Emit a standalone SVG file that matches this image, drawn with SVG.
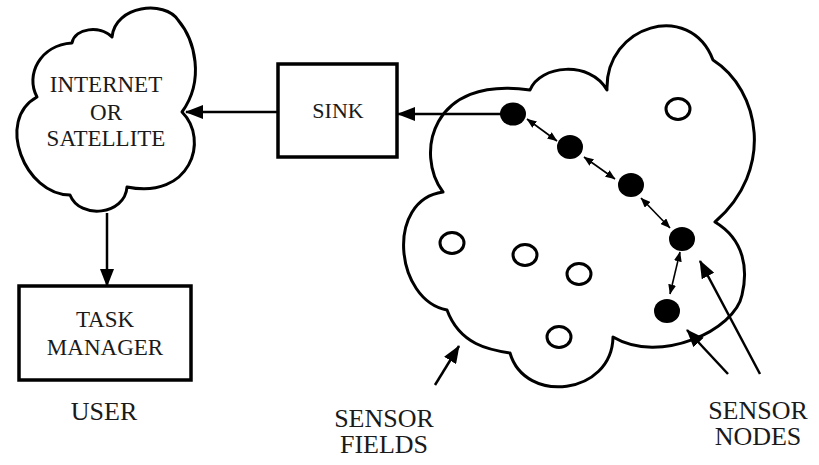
<svg xmlns="http://www.w3.org/2000/svg" width="819" height="465" viewBox="0 0 819 465">
<style>
.shape{fill:#fff;stroke:#000;stroke-width:3;stroke-linejoin:round}
.box{fill:#fff;stroke:#000;stroke-width:3.5}
.ln{fill:none;stroke:#000;stroke-width:2.5}
.thin{fill:none;stroke:#000;stroke-width:1.6}
.node{fill:#000}
.open{fill:#fff;stroke:#000;stroke-width:3}
text{fill:#1a1a1a;text-anchor:middle}
.t23{font-size:23px}
.t22{font-size:22px}
.t27{font-size:26px}
</style>
<defs>
<marker id="ah" viewBox="0 0 18 14" refX="17" refY="7" markerWidth="18" markerHeight="14" markerUnits="userSpaceOnUse" orient="auto"><path d="M0,0 L18,7 L0,14 z" fill="#000"/></marker>
<marker id="sa" viewBox="0 0 10 8" refX="9.5" refY="4" markerWidth="10" markerHeight="8" markerUnits="userSpaceOnUse" orient="auto-start-reverse"><path d="M0,0 L10,4 L0,8 z" fill="#000"/></marker>
</defs>
<rect width="819" height="465" fill="#fff"/>
<g font-family="Liberation Serif, Times New Roman, Times, serif">
<g id="internet">
<path class="shape" d="M37,97 C25,75 40,45 72,43 C75,28 100,25 112,37 C115,5 165,0 178,20 C195,40 205,80 182,112 C210,140 190,200 127,187 C125,215 80,220 70,195 C25,195 -5,120 37,97 Z"/>
<text class="t23" x="106" y="92">INTERNET</text>
<text class="t23" x="106" y="120">OR</text>
<text class="t23" x="106" y="146">SATELLITE</text>
</g>
<g id="sink">
<rect class="box" x="278" y="64" width="119" height="93"/>
<text class="t22" x="338" y="118">SINK</text>
</g>
<g id="task-manager">
<rect class="box" x="19" y="286" width="172" height="94"/>
<text class="t23" x="105" y="327">TASK</text>
<text class="t23" x="105" y="355">MANAGER</text>
</g>
<g id="user-label"><text class="t27" x="104" y="420">USER</text></g>
<g id="sensor-field">
<path class="shape" d="M443,192 C415,155 430,75 530,90 C540,65 590,60 607,90 C605,25 690,0 713,60 C760,90 775,170 715,222 C745,240 748,270 742,295 C735,330 660,365 613,337 C612,395 525,405 510,353 C490,350 460,345 447,310 C395,300 385,200 443,192 Z"/>
</g>
<g id="sensor-nodes">
<ellipse class="node" cx="513" cy="114" rx="13" ry="11.5"/>
<ellipse class="node" cx="570" cy="147" rx="13" ry="12"/>
<ellipse class="node" cx="631" cy="185" rx="13" ry="12"/>
<ellipse class="node" cx="682" cy="239" rx="13" ry="12"/>
<ellipse class="node" cx="667" cy="311" rx="13" ry="12"/>
<ellipse class="open" cx="678" cy="109" rx="12" ry="10.5"/>
<ellipse class="open" cx="452" cy="243" rx="12" ry="10.5"/>
<ellipse class="open" cx="525" cy="255" rx="12" ry="10.5"/>
<ellipse class="open" cx="579" cy="274" rx="12" ry="10.5"/>
<ellipse class="open" cx="559" cy="337" rx="12" ry="10.5"/>
</g>
<g id="sensor-fields-label">
<text class="t27" x="384" y="427">SENSOR</text>
<text class="t27" x="384" y="453">FIELDS</text>
</g>
<g id="sensor-nodes-label">
<text class="t27" x="758" y="419">SENSOR</text>
<text class="t27" x="758" y="445">NODES</text>
</g>
</g>
<g id="connectors">
<line class="ln" x1="278" y1="112" x2="186" y2="112" marker-end="url(#ah)"/>
<line class="ln" x1="107" y1="213" x2="107" y2="286" marker-end="url(#ah)"/>
<line class="ln" x1="502" y1="114" x2="398" y2="114" marker-end="url(#ah)"/>
<line class="thin" x1="527" y1="119" x2="557" y2="141" marker-start="url(#sa)" marker-end="url(#sa)"/>
<line class="thin" x1="584" y1="157" x2="615" y2="179" marker-start="url(#sa)" marker-end="url(#sa)"/>
<line class="thin" x1="641" y1="198" x2="670" y2="228" marker-start="url(#sa)" marker-end="url(#sa)"/>
<line class="thin" x1="680" y1="252" x2="670" y2="294" marker-start="url(#sa)" marker-end="url(#sa)"/>
<line class="ln" x1="435" y1="385" x2="459" y2="346" marker-end="url(#ah)"/>
<line class="ln" x1="728" y1="374" x2="687" y2="330" marker-end="url(#ah)"/>
<line class="ln" x1="760" y1="374" x2="700" y2="261" marker-end="url(#ah)"/>
</g>
</svg>
